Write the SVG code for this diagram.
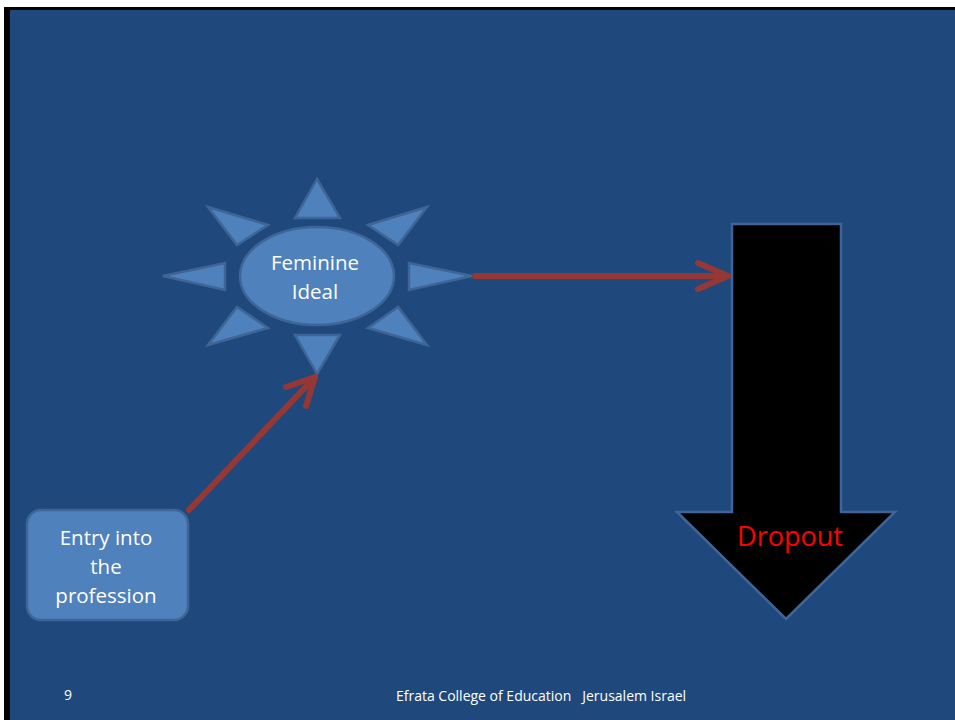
<svg xmlns="http://www.w3.org/2000/svg" width="955" height="720" viewBox="0 0 955 720">
  <style>
    .ray { fill: #4f81bd; stroke: #3e6596; stroke-width: 2.5; stroke-linejoin: miter; }
    .lbl { font-family: "Open Sans", "Liberation Sans", sans-serif; fill: #ffffff; text-anchor: middle; }
    .conn { stroke: #953735; stroke-width: 6; fill: none; stroke-linecap: round; stroke-linejoin: round; }
  </style>

  <!-- slide background with dark frame on top and left -->
  <rect x="0" y="0" width="955" height="720" fill="#ffffff"/>
  <rect x="4" y="7" width="951" height="713" fill="#000000"/>
  <rect x="10" y="10" width="945" height="710" fill="#1f497d"/>

  <!-- sun: Feminine Ideal -->
  <g id="feminine-ideal">
    <polygon class="ray" points="317,179 295,218 340,218"/>
    <polygon class="ray" points="317,374 295,335 340,335"/>
    <polygon class="ray" points="163,276 225,263 225,290"/>
    <polygon class="ray" points="472,276 409,263 409,290"/>
    <polygon class="ray" points="208,207 268,225 237,245"/>
    <polygon class="ray" points="427,207 368,225 398,245"/>
    <polygon class="ray" points="208,345 268,328 237,307"/>
    <polygon class="ray" points="427,345 368,328 398,307"/>
    <ellipse class="ray" cx="317" cy="276" rx="77" ry="49"/>
    <text class="lbl" x="315" y="270" font-size="20.5">Feminine</text>
    <text class="lbl" x="315" y="299" font-size="20.5">Ideal</text>
  </g>

  <!-- rounded box: Entry into the profession -->
  <g id="entry">
    <rect x="27" y="510" width="161" height="110" rx="14" ry="14" fill="#4f81bd" stroke="#3e6596" stroke-width="2.5"/>
    <text class="lbl" x="106" y="545" font-size="20.5">Entry into</text>
    <text class="lbl" x="106" y="574" font-size="20.5">the</text>
    <text class="lbl" x="106" y="603" font-size="20.5">profession</text>
  </g>

  <!-- block arrow: Dropout -->
  <g id="dropout">
    <polygon points="732,224 841,224 841,512 895,512 786,619 677,512 732,512" fill="#000000" stroke="#3e6596" stroke-width="2.5"/>
    <text x="790" y="546" font-family="'Open Sans', 'Liberation Sans', sans-serif" font-size="27" fill="#ff0000" text-anchor="middle">Dropout</text>
  </g>

  <!-- connectors -->
  <g id="connectors">
    <path class="conn" d="M475,276 L728,276 M698,263 L728,276 L698,289"/>
    <path class="conn" d="M189,510 L315,377 M286,387 L315,377 L306,406"/>
  </g>

  <!-- footer -->
  <g id="footer">
    <text x="64" y="700" font-family="'Open Sans', 'Liberation Sans', sans-serif" font-size="14" fill="#ffffff">9</text>
    <text x="541" y="701" font-family="'Open Sans', 'Liberation Sans', sans-serif" font-size="14" fill="#ffffff" text-anchor="middle" xml:space="preserve">Efrata College of Education   Jerusalem Israel</text>
  </g>
</svg>
